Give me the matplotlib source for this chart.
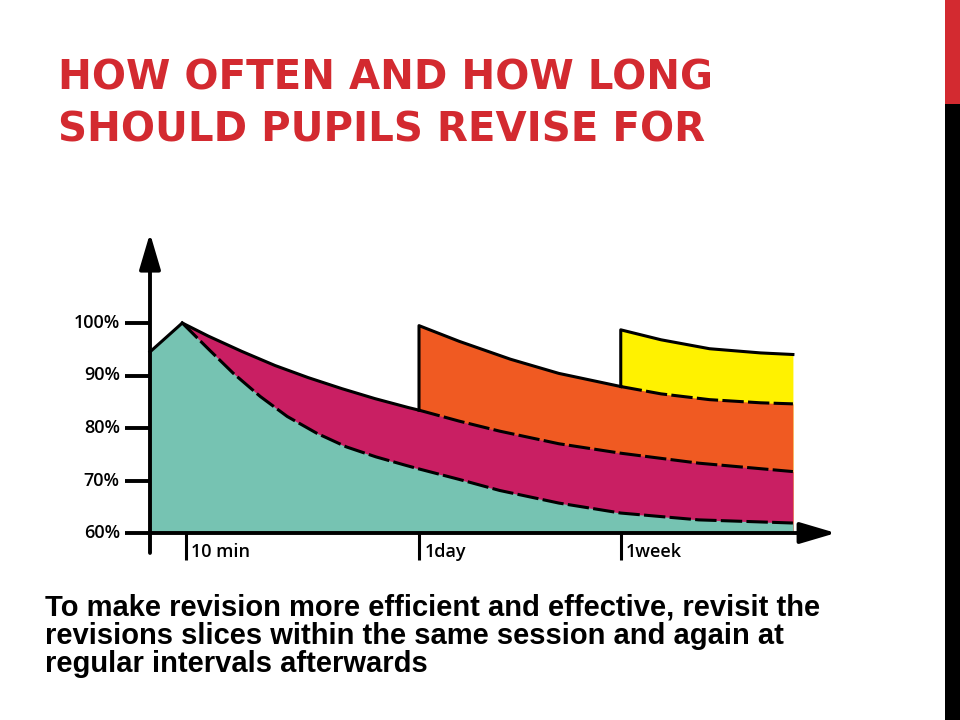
import numpy as np
import matplotlib
matplotlib.use("Agg")
import matplotlib.pyplot as plt
from matplotlib.patches import Rectangle

# ---- data (schematic forgetting curve, retention in %) ----
# x is schematic time: 1 day = 10 units
t_10min, t_1day, t_1week, t_end = 1.34, 10.0, 17.5, 23.9
tick_pos = [t_10min, t_1day, t_1week]
tick_labels = ["10 min", "1day", "1week"]
y_ticks = [60, 70, 80, 90, 100]

# first learning (teal), rise then dashed decay
teal_x = [0, 1.2, 2.2, 3.1, 4.1, 5.1, 6.2, 7.3, 8.4, 9.5, 10.0, 11.5, 13.0, 15.2, 17.5, 20.4, 23.9]
teal_y = [94.5, 100, 94.9, 90.4, 86.0, 82.2, 79.0, 76.4, 74.5, 72.9, 72.2, 70.2, 68.1, 65.7, 63.8, 62.5, 61.9]
# revision after 10 min (magenta)
mag_x = [1.2, 2.17, 3.41, 4.65, 5.88, 7.13, 8.36, 9.6, 10.0, 11.5, 13.0, 15.2, 17.5, 20.4, 23.9]
mag_y = [100, 97.5, 94.6, 91.9, 89.6, 87.5, 85.6, 83.9, 83.4, 81.3, 79.4, 77.0, 75.2, 73.3, 71.7]
# revision after 1 day (orange)
ora_x = [10.0, 11.5, 13.4, 15.2, 17.5, 19.0, 20.8, 22.7, 23.9]
ora_y = [99.5, 96.5, 93.1, 90.4, 87.9, 86.5, 85.4, 84.8, 84.6]
# revision after 1 week (yellow)
yel_x = [17.5, 19.0, 20.8, 22.7, 23.9]
yel_y = [98.7, 96.8, 95.1, 94.3, 94.0]

teal_c, mag_c, ora_c, yel_c = "#76C3B2", "#C91F63", "#F05A22", "#FFF200"
red = "#D32A30"

fig = plt.figure(figsize=(9.6, 7.2), dpi=100)
W, H = 960, 720

# pixel mapping of the chart area
X0, XS = 150, 26.9      # px at x=0, px per unit
Y0, YS = 533, 5.25      # px at 60 %, px per percent
xlim, ylim = (-3, 27), (53, 120)
left = (X0 + xlim[0] * XS) / W
width = (xlim[1] - xlim[0]) * XS / W
bottom = 1 - (Y0 + (60 - ylim[0]) * YS) / H
height = (ylim[1] - ylim[0]) * YS / H
ax = fig.add_axes([left, bottom, width, height])
ax.set_xlim(xlim)
ax.set_ylim(ylim)
ax.axis("off")

# stacked fills, top layer first
ax.fill_between(yel_x, 60, yel_y, color=yel_c, lw=0)
ax.fill_between(ora_x, 60, ora_y, color=ora_c, lw=0)
ax.fill_between(mag_x, 60, mag_y, color=mag_c, lw=0)
ax.fill_between(teal_x, 60, teal_y, color=teal_c, lw=0)

lw = 2.2
dash = (0, (7, 1.4))
# teal outline
ax.plot(teal_x[:2], teal_y[:2], color="black", lw=lw)
ax.plot(teal_x[1:], teal_y[1:], color="black", lw=lw, ls=dash)
# magenta outline
i = mag_x.index(t_1day)
ax.plot(mag_x[:i + 1], mag_y[:i + 1], color="black", lw=lw, solid_joinstyle="round")
ax.plot(mag_x[i:], mag_y[i:], color="black", lw=lw, ls=dash)
# orange outline
j = ora_x.index(t_1week)
ax.plot([t_1day] + ora_x[:j + 1], [mag_y[i]] + ora_y[:j + 1], color="black", lw=lw,
        solid_joinstyle="round")
ax.plot(ora_x[j:], ora_y[j:], color="black", lw=lw, ls=dash)
# yellow outline
ax.plot([t_1week] + yel_x, [ora_y[j]] + yel_y, color="black", lw=lw, solid_joinstyle="round")

# axes with arrows
ax.annotate("", xy=(0, 117.1), xytext=(0, 56.2),
            arrowprops=dict(arrowstyle="-|>,head_length=2.2,head_width=0.65",
                            lw=2.8, color="black", shrinkA=0, shrinkB=0))
ax.annotate("", xy=(25.5, 60), xytext=(0, 60),
            arrowprops=dict(arrowstyle="-|>,head_length=2.2,head_width=0.65",
                            lw=2.8, color="black", shrinkA=0, shrinkB=0))

lab_font = dict(family="Open Sans", fontweight="semibold", fontsize=13)
for v in y_ticks:
    ax.plot([-0.93, 0], [v, v], color="black", lw=2.8, solid_capstyle="butt")
    ax.text(-1.12, v, f"{v}%", ha="right", va="center", **lab_font)
for p, s in zip(tick_pos, tick_labels):
    ax.plot([p, p], [60, 54.9], color="black", lw=2.2, solid_capstyle="butt")
    ax.text(p + 0.2, 56.4, s, ha="left", va="center", **lab_font)

# title and caption
fig.text(58 / W, 1 - 58 / H, "HOW OFTEN AND HOW LONG\nSHOULD PUPILS REVISE FOR",
         ha="left", va="top", color=red, fontsize=29, fontweight="bold",
         family="DejaVu Sans", linespacing=1.4)
fig.text(45 / W, 1 - 594 / H,
         "To make revision more efficient and effective, revisit the\n"
         "revisions slices within the same session and again at\n"
         "regular intervals afterwards",
         ha="left", va="top", color="black", fontsize=21, fontweight="bold",
         family="Liberation Sans", linespacing=1.0)

# side bar
fig.patches.append(Rectangle((945 / W, 1 - 104 / H), 15 / W, 104 / H,
                             transform=fig.transFigure, color=red, lw=0))
fig.patches.append(Rectangle((945 / W, 0), 15 / W, 1 - 104 / H,
                             transform=fig.transFigure, color="black", lw=0))

fig.savefig("out.png", dpi=100)
